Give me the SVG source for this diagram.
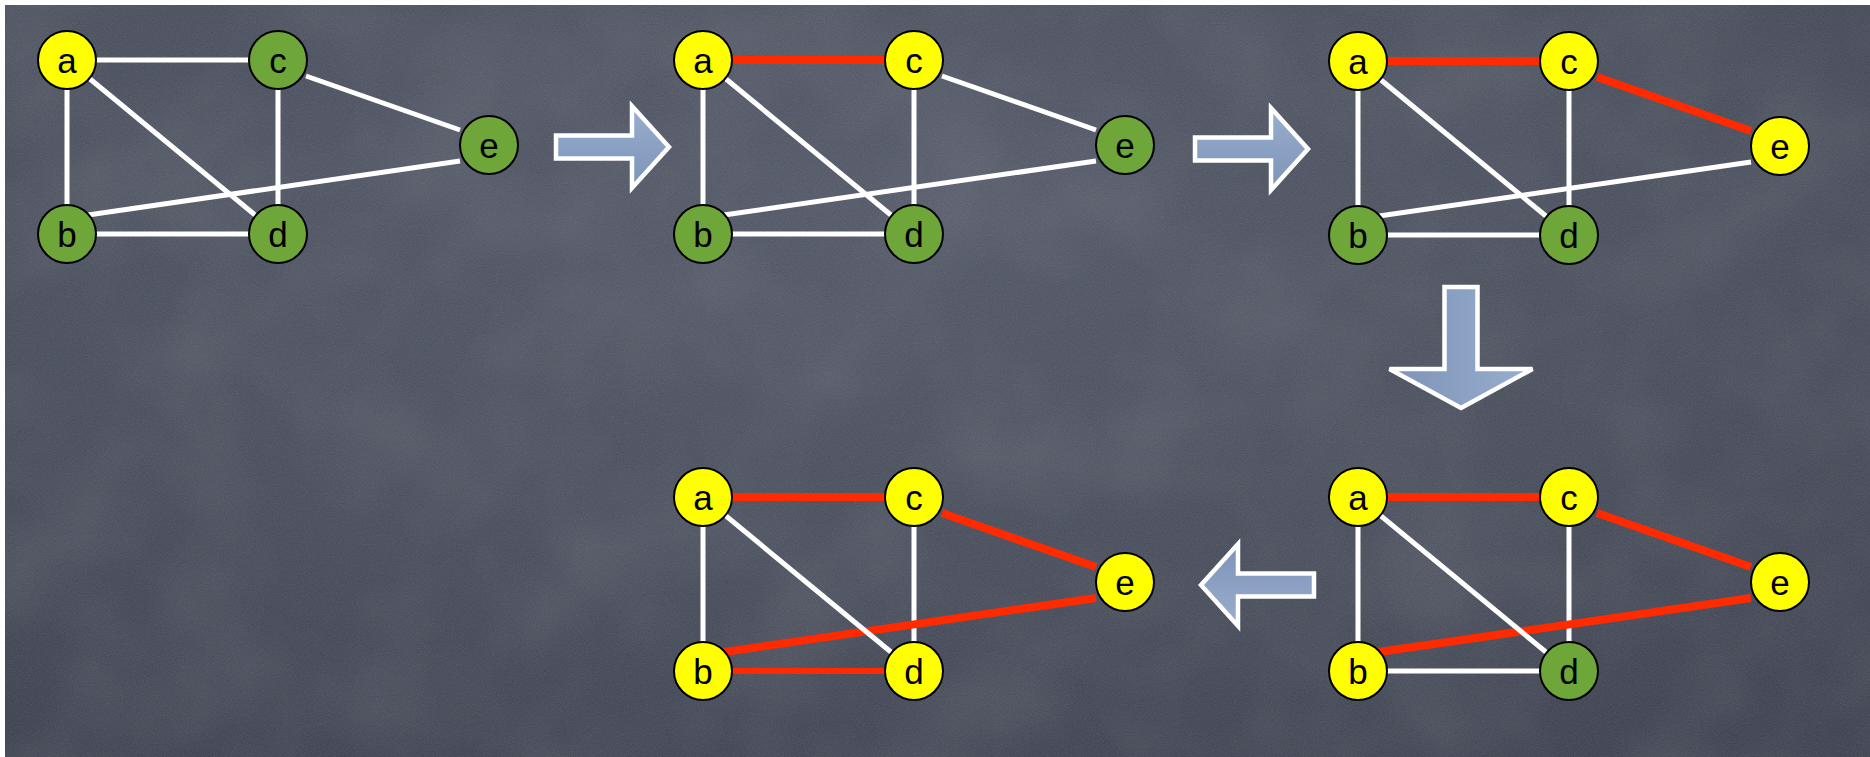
<svg xmlns="http://www.w3.org/2000/svg" xmlns:xlink="http://www.w3.org/1999/xlink" width="1870" height="757" viewBox="0 0 1870 757">
  <defs>
    <style>
      .edge { stroke: #ffffff; stroke-width: 5; fill: none; }
      .hot { stroke: #ff2a00; stroke-width: 8; }
      .hot.thin { stroke-width: 6; }
      .node circle { stroke: #000000; stroke-width: 2; }
      .node.y circle { fill: #ffff00; }
      .node.g circle { fill: #6fa63a; }
      .node text { font-family: "Liberation Sans", Arial, Helvetica, sans-serif; font-size: 35px; text-anchor: middle; fill: #000000; }
      .arrow { fill: url(#arrowFill); stroke: #ffffff; stroke-width: 4.5; stroke-linejoin: miter; }
    </style>
    <radialGradient id="board" cx="0.45" cy="0.25" r="0.85">
      <stop offset="0" stop-color="#555a69"/>
      <stop offset="0.6" stop-color="#4a4f5d"/>
      <stop offset="1" stop-color="#404452"/>
    </radialGradient>
    <linearGradient id="arrowFill" x1="0" y1="0" x2="0" y2="1">
      <stop offset="0" stop-color="#9aaecd"/>
      <stop offset="1" stop-color="#7c94b9"/>
    </linearGradient>
    <filter id="grain" x="0" y="0" width="100%" height="100%">
      <feTurbulence type="fractalNoise" baseFrequency="0.9" numOctaves="2" seed="7"/>
      <feColorMatrix type="matrix" values="0 0 0 0 1  0 0 0 0 1  0 0 0 0 1  0.14 0 0 0 -0.04"/>
    </filter>
    <filter id="mottle" x="0" y="0" width="100%" height="100%">
      <feTurbulence type="fractalNoise" baseFrequency="0.008" numOctaves="3" seed="11"/>
      <feColorMatrix type="matrix" values="0 0 0 0 1  0 0 0 0 1  0 0 0 0 1  0.12 0 0 0 -0.045"/>
    </filter>
    <!-- block arrows pointing right, tip at the origin -->
    <path id="arrowRight" d="M -3,0 L -40,-41 L -40,-11.5 L -116,-11.5 L -116,11.5 L -40,11.5 L -40,41 Z"/>
    <path id="arrowBig" d="M -3,0 L -42,-71.5 L -42,-16.5 L -124,-16.5 L -124,16.5 L -42,16.5 L -42,71.5 Z"/>
  </defs>

  <!-- chalkboard -->
  <rect width="1870" height="757" fill="#ffffff"/>
  <rect x="5" y="5" width="1865" height="752" fill="url(#board)"/>
  <rect x="5" y="5" width="1865" height="752" filter="url(#mottle)"/>
  <rect x="5" y="5" width="1865" height="752" filter="url(#grain)"/>

  <!-- step arrows -->
  <g id="arrows">
    <use id="arrow-1" class="arrow" xlink:href="#arrowRight" transform="translate(672,147)"/>
    <use id="arrow-2" class="arrow" xlink:href="#arrowRight" transform="translate(1311,149)"/>
    <use id="arrow-3" class="arrow" xlink:href="#arrowBig" transform="translate(1461,411) rotate(90)"/>
    <use id="arrow-4" class="arrow" xlink:href="#arrowRight" transform="translate(1198,585) rotate(180)"/>
  </g>

  <!-- step 1 -->
  <g id="step1" transform="translate(67,60)">
    <g id="step1-edges">
      <line class="edge" x1="0" y1="0" x2="211" y2="0"/>
      <line class="edge" x1="211" y1="0" x2="211" y2="174"/>
      <line class="edge" x1="239" y1="16" x2="393" y2="70"/>
      <line class="edge" x1="21" y1="155" x2="393" y2="101"/>
      <line class="edge" x1="0" y1="0" x2="0" y2="174"/>
      <line class="edge" x1="0" y1="0" x2="211" y2="174"/>
      <line class="edge" x1="0" y1="174" x2="211" y2="174"/>
    </g>
    <g id="step1-a" class="node y"><circle r="29"/><text y="13">a</text></g>
    <g id="step1-c" class="node g" transform="translate(211,0)"><circle r="29"/><text y="13">c</text></g>
    <g id="step1-e" class="node g" transform="translate(422,85)"><circle r="29"/><text y="13">e</text></g>
    <g id="step1-b" class="node g" transform="translate(0,174)"><circle r="29"/><text y="13">b</text></g>
    <g id="step1-d" class="node g" transform="translate(211,174)"><circle r="29"/><text y="13">d</text></g>
  </g>

  <!-- step 2 -->
  <g id="step2" transform="translate(703,60)">
    <g id="step2-edges">
      <line class="edge hot" x1="0" y1="0" x2="211" y2="0"/>
      <line class="edge" x1="211" y1="0" x2="211" y2="174"/>
      <line class="edge" x1="239" y1="16" x2="393" y2="70"/>
      <line class="edge" x1="21" y1="155" x2="393" y2="101"/>
      <line class="edge" x1="0" y1="0" x2="0" y2="174"/>
      <line class="edge" x1="0" y1="0" x2="211" y2="174"/>
      <line class="edge" x1="0" y1="174" x2="211" y2="174"/>
    </g>
    <g id="step2-a" class="node y"><circle r="29"/><text y="13">a</text></g>
    <g id="step2-c" class="node y" transform="translate(211,0)"><circle r="29"/><text y="13">c</text></g>
    <g id="step2-e" class="node g" transform="translate(422,85)"><circle r="29"/><text y="13">e</text></g>
    <g id="step2-b" class="node g" transform="translate(0,174)"><circle r="29"/><text y="13">b</text></g>
    <g id="step2-d" class="node g" transform="translate(211,174)"><circle r="29"/><text y="13">d</text></g>
  </g>

  <!-- step 3 -->
  <g id="step3" transform="translate(1358,61)">
    <g id="step3-edges">
      <line class="edge hot" x1="0" y1="0" x2="211" y2="0"/>
      <line class="edge" x1="211" y1="0" x2="211" y2="174"/>
      <line class="edge hot" x1="239" y1="16" x2="393" y2="70"/>
      <line class="edge" x1="21" y1="155" x2="393" y2="101"/>
      <line class="edge" x1="0" y1="0" x2="0" y2="174"/>
      <line class="edge" x1="0" y1="0" x2="211" y2="174"/>
      <line class="edge" x1="0" y1="174" x2="211" y2="174"/>
    </g>
    <g id="step3-a" class="node y"><circle r="29"/><text y="13">a</text></g>
    <g id="step3-c" class="node y" transform="translate(211,0)"><circle r="29"/><text y="13">c</text></g>
    <g id="step3-e" class="node y" transform="translate(422,85)"><circle r="29"/><text y="13">e</text></g>
    <g id="step3-b" class="node g" transform="translate(0,174)"><circle r="29"/><text y="13">b</text></g>
    <g id="step3-d" class="node g" transform="translate(211,174)"><circle r="29"/><text y="13">d</text></g>
  </g>

  <!-- step 4 -->
  <g id="step4" transform="translate(1358,497)">
    <g id="step4-edges">
      <line class="edge hot" x1="0" y1="0" x2="211" y2="0"/>
      <line class="edge" x1="211" y1="0" x2="211" y2="174"/>
      <line class="edge hot" x1="239" y1="16" x2="393" y2="70"/>
      <line class="edge hot" x1="21" y1="155" x2="393" y2="101"/>
      <line class="edge" x1="0" y1="0" x2="0" y2="174"/>
      <line class="edge" x1="0" y1="0" x2="211" y2="174"/>
      <line class="edge" x1="0" y1="174" x2="211" y2="174"/>
    </g>
    <g id="step4-a" class="node y"><circle r="29"/><text y="13">a</text></g>
    <g id="step4-c" class="node y" transform="translate(211,0)"><circle r="29"/><text y="13">c</text></g>
    <g id="step4-e" class="node y" transform="translate(422,85)"><circle r="29"/><text y="13">e</text></g>
    <g id="step4-b" class="node y" transform="translate(0,174)"><circle r="29"/><text y="13">b</text></g>
    <g id="step4-d" class="node g" transform="translate(211,174)"><circle r="29"/><text y="13">d</text></g>
  </g>

  <!-- step 5 -->
  <g id="step5" transform="translate(703,497)">
    <g id="step5-edges">
      <line class="edge hot" x1="0" y1="0" x2="211" y2="0"/>
      <line class="edge" x1="211" y1="0" x2="211" y2="174"/>
      <line class="edge hot" x1="239" y1="16" x2="393" y2="70"/>
      <line class="edge hot" x1="21" y1="155" x2="393" y2="101"/>
      <line class="edge" x1="0" y1="0" x2="0" y2="174"/>
      <line class="edge" x1="0" y1="0" x2="211" y2="174"/>
      <line class="edge hot thin" x1="0" y1="174" x2="211" y2="174"/>
    </g>
    <g id="step5-a" class="node y"><circle r="29"/><text y="13">a</text></g>
    <g id="step5-c" class="node y" transform="translate(211,0)"><circle r="29"/><text y="13">c</text></g>
    <g id="step5-e" class="node y" transform="translate(422,85)"><circle r="29"/><text y="13">e</text></g>
    <g id="step5-b" class="node y" transform="translate(0,174)"><circle r="29"/><text y="13">b</text></g>
    <g id="step5-d" class="node y" transform="translate(211,174)"><circle r="29"/><text y="13">d</text></g>
  </g>
</svg>
